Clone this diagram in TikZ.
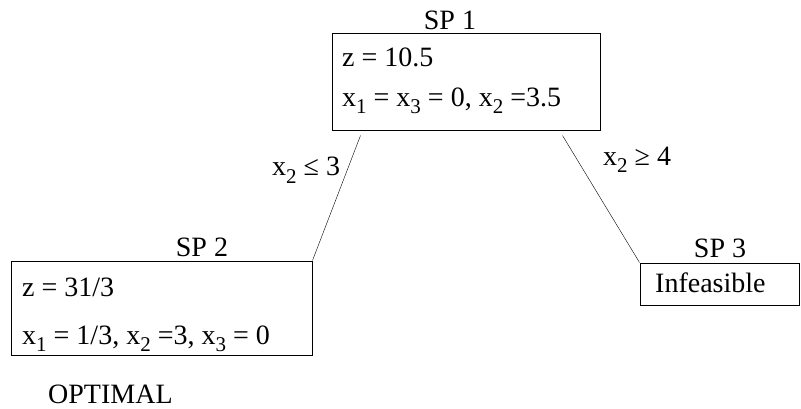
\documentclass[tikz,border=0pt]{standalone}
\usepackage{fontspec}
\setmainfont{Liberation Serif}
\newcommand{\lsub}[1]{\raisebox{-7pt}{\fontsize{21}{21}\selectfont #1}}
\begin{document}
\begin{tikzpicture}[x=1pt, y=-1pt,
    font=\fontsize{28}{32}\selectfont,
    spbox/.style={draw, line width=1pt, inner sep=0pt},
    txt/.style={anchor=base west, inner sep=0pt}]
        \useasboundingbox (0,0) rectangle (801,409);
        % Root problem
        \node[spbox, minimum width=268pt, minimum height=97pt] (sp1) at (466,82.5) {};
        \node (t1) at (450,20) {SP 1};
        \node[txt] (z1) at (342,67) {z = 10.5};
        \node[txt] (x1) at (342,107) {x\lsub{1} = x\lsub{3} = 0, x\lsub{2} =3.5};
        % Left branch
        \node[spbox, minimum width=301pt, minimum height=94pt] (sp2) at (161.5,308) {};
        \node (t2) at (202,247) {SP 2};
        \node[txt] (z2) at (22,296) {z = 31/3};
        \node[txt] (x2) at (22,344) {x\lsub{1} = 1/3, x\lsub{2} =3, x\lsub{3} = 0};
        \node[txt] (opt) at (48,403) {OPTIMAL};
        % Right branch
        \node[spbox, minimum width=159pt, minimum height=42pt] (sp3) at (719.5,284) {};
        \node (t3) at (720,248) {SP 3};
        \node[txt] (inf) at (655,292) {Infeasible};
        % Branches
        \draw ([xshift=29pt, yshift=-4pt]sp1.south west) -- (sp2.north east);
        \draw ([xshift=-38pt, yshift=-4pt]sp1.south east) -- (sp3.north west);
        \node[txt] (l2) at (272,176) {x\lsub{2} ≤ 3};
        \node[txt] (l3) at (603,166) {x\lsub{2} ≥ 4};
\end{tikzpicture}
\end{document}
